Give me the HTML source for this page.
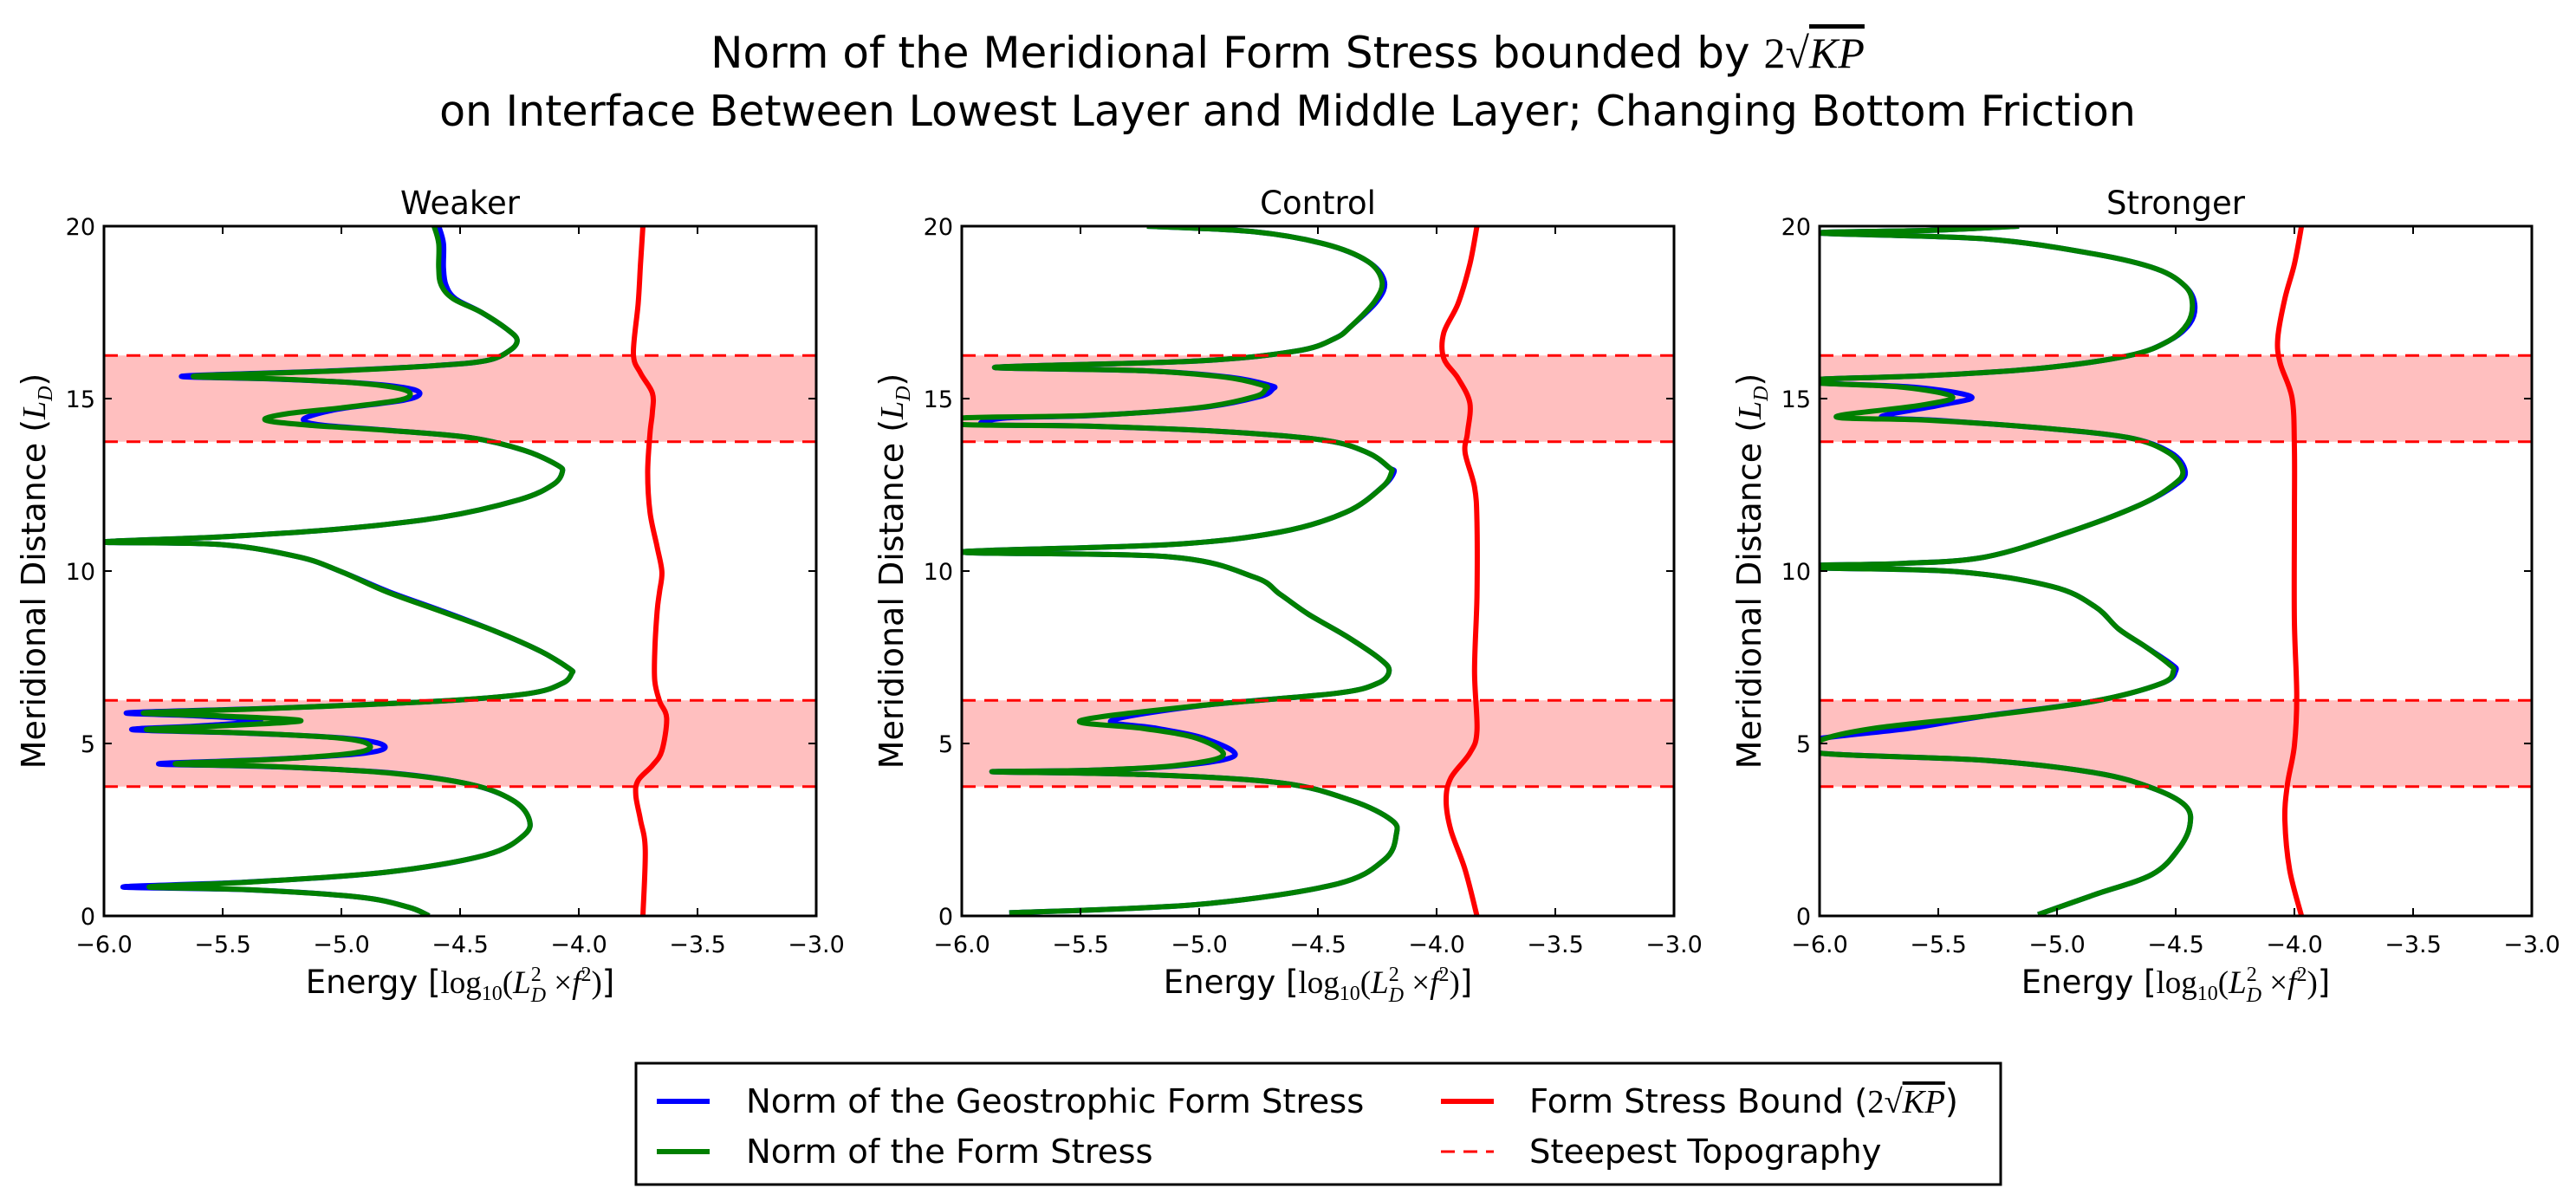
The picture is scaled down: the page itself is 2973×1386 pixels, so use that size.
<!DOCTYPE html>
<html><head><meta charset="utf-8"><style>
html,body{margin:0;padding:0;background:#fff;}
svg{display:block;font-family:"DejaVu Sans","Liberation Sans",sans-serif;}
</style></head><body>
<svg id="fig" width="2973" height="1386" viewBox="0 0 2973 1386" xmlns="http://www.w3.org/2000/svg">
<text x="1486" y="78" text-anchor="middle" font-size="50">Norm of the Meridional Form Stress bounded by <tspan font-family="Liberation Serif, serif">2√<tspan font-style="italic" text-decoration="overline">KP</tspan></tspan></text>
<text x="1486" y="145" text-anchor="middle" font-size="49">on Interface Between Lowest Layer and Middle Layer; Changing Bottom Friction</text>
<g id="panels"></g>
<g>
<rect x="734" y="1227" width="1575" height="140" fill="#fff" stroke="#000" stroke-width="3"/>
<line x1="758" y1="1271" x2="819" y2="1271" stroke="#0000ff" stroke-width="6"/>
<text x="861" y="1284" font-size="38.5">Norm of the Geostrophic Form Stress</text>
<line x1="758" y1="1329" x2="819" y2="1329" stroke="#008000" stroke-width="6"/>
<text x="861" y="1342" font-size="38.5">Norm of the Form Stress</text>
<line x1="1663" y1="1271" x2="1724" y2="1271" stroke="#ff0000" stroke-width="6"/>
<text x="1765" y="1284" font-size="38.5">Form Stress Bound (<tspan font-family="Liberation Serif, serif">2√<tspan font-style="italic" text-decoration="overline">KP</tspan></tspan>)</text>
<line x1="1663" y1="1329" x2="1724" y2="1329" stroke="#ff0000" stroke-width="3" stroke-dasharray="16,10"/>
<text x="1765" y="1342" font-size="38.5">Steepest Topography</text>
</g>
</svg>
<script>
const xTicks = [-6.0,-5.5,-5.0,-4.5,-4.0,-3.5,-3.0];
const yTicks = [0,5,10,15,20];
const bands = [[3.75,6.25],[13.75,16.25]];
const panelTitles = ["Weaker","Control","Stronger"];

const weakerY = [20,19.5,18.8,18.3,17.9,17.5,17.0,16.7,16.4,16.1,15.95,15.8,15.65,15.57,15.45,15.3,15.13,14.95,14.73,14.56,14.38,14.23,14.08,13.87,13.5,13.07,12.86,12.5,12.07,11.56,11.2,10.99,10.84,10.77,10.41,9.98,9.4,8.83,8.25,7.67,7.17,7.03,6.74,6.45,6.23,6.02,5.89,5.80,5.66,5.51,5.40,5.30,5.15,4.94,4.72,4.54,4.41,4.33,4.15,3.82,3.36,2.82,2.35,1.77,1.27,0.98,0.84,0.76,0.55,0.26,0];
const weakerForm = [-4.61,-4.59,-4.59,-4.58,-4.53,-4.41,-4.30,-4.26,-4.29,-4.39,-4.62,-5.04,-5.62,-5.28,-4.93,-4.76,-4.71,-4.76,-5.0,-5.23,-5.32,-5.14,-4.81,-4.46,-4.23,-4.09,-4.07,-4.11,-4.25,-4.58,-5.04,-5.51,-6.0,-5.51,-5.18,-5.0,-4.81,-4.58,-4.35,-4.16,-4.04,-4.03,-4.07,-4.21,-4.58,-5.28,-5.83,-5.51,-5.17,-5.51,-5.82,-5.39,-5.0,-4.88,-4.95,-5.28,-5.70,-5.28,-4.81,-4.46,-4.28,-4.21,-4.23,-4.39,-4.81,-5.39,-5.81,-5.39,-4.93,-4.72,-4.63];
const weakerGeo  = [-4.59,-4.57,-4.57,-4.56,-4.52,-4.41,-4.30,-4.26,-4.29,-4.39,-4.62,-5.06,-5.67,-5.30,-4.92,-4.72,-4.67,-4.74,-4.98,-5.10,-5.16,-5.08,-4.80,-4.46,-4.23,-4.09,-4.07,-4.11,-4.25,-4.58,-5.04,-5.51,-6.0,-5.51,-5.18,-5.0,-4.80,-4.57,-4.35,-4.16,-4.04,-4.03,-4.07,-4.21,-4.58,-5.30,-5.90,-5.60,-5.34,-5.60,-5.88,-5.40,-4.98,-4.82,-4.90,-5.30,-5.77,-5.30,-4.80,-4.46,-4.28,-4.21,-4.23,-4.39,-4.81,-5.40,-5.92,-5.40,-4.93,-4.72,-4.63];
const weakerBoundY = [20,18.9,17.75,16.3,15.74,15.16,14.6,14.0,12.86,11.7,10.7,9.98,9.4,8.83,7.67,6.81,6.23,5.73,4.79,4.36,3.93,3.5,2.78,1.92,0];
const weakerBound = [-3.73,-3.74,-3.75,-3.77,-3.74,-3.69,-3.69,-3.70,-3.71,-3.70,-3.67,-3.65,-3.66,-3.67,-3.68,-3.68,-3.66,-3.63,-3.65,-3.69,-3.75,-3.76,-3.74,-3.72,-3.73];

const controlY = [20,19.84,19.48,18.98,18.4,17.83,17.1,16.74,16.38,16.09,15.91,15.81,15.62,15.38,15.28,15.05,14.73,14.51,14.44,14.25,14.2,14.04,13.79,13.43,13.0,12.86,12.43,11.71,11.13,10.77,10.55,10.41,9.83,9.33,8.75,8.11,7.46,7.1,6.74,6.45,6.09,5.66,5.44,5.15,4.65,4.36,4.22,4.18,4.10,3.86,3.35,2.78,2.35,1.63,0.91,0.33,0.09];
const controlForm = [-5.22,-4.77,-4.47,-4.29,-4.23,-4.26,-4.36,-4.43,-4.59,-5.01,-5.86,-5.24,-4.89,-4.73,-4.72,-4.77,-5.01,-5.47,-6.0,-6.0,-5.47,-4.89,-4.47,-4.29,-4.20,-4.19,-4.23,-4.38,-4.66,-5.12,-6.0,-5.12,-4.77,-4.66,-4.54,-4.38,-4.24,-4.20,-4.25,-4.43,-5.01,-5.50,-5.24,-5.01,-4.90,-5.10,-5.47,-5.87,-5.24,-4.66,-4.36,-4.19,-4.17,-4.22,-4.43,-5.01,-5.80];
const controlGeo  = [-5.22,-4.77,-4.47,-4.29,-4.22,-4.25,-4.36,-4.43,-4.59,-5.01,-5.86,-5.24,-4.87,-4.70,-4.69,-4.75,-5.0,-5.45,-5.81,-5.90,-5.47,-4.89,-4.47,-4.29,-4.20,-4.18,-4.23,-4.38,-4.66,-5.12,-6.0,-5.12,-4.77,-4.66,-4.54,-4.38,-4.24,-4.20,-4.25,-4.43,-5.0,-5.37,-5.18,-4.98,-4.85,-5.08,-5.47,-5.87,-5.24,-4.66,-4.36,-4.19,-4.17,-4.22,-4.43,-5.01,-5.80];
const controlBoundY = [20,18.9,17.75,16.9,16.17,15.59,14.87,14.0,13.43,12.43,11.42,9.26,7.1,5.37,4.72,4.0,3.35,2.49,1.34,0];
const controlBound = [-3.83,-3.86,-3.91,-3.97,-3.97,-3.91,-3.86,-3.87,-3.88,-3.84,-3.83,-3.83,-3.84,-3.83,-3.86,-3.94,-3.96,-3.94,-3.88,-3.83];

const strongerY = [20,19.88,19.8,19.63,19.19,18.76,18.26,17.75,17.18,16.67,16.24,15.88,15.67,15.56,15.45,15.33,15.05,14.8,14.47,14.37,14.15,13.87,13.43,12.89,12.5,11.92,11.13,10.41,10.22,10.17,10.09,9.98,9.55,8.97,8.32,7.82,7.31,7.1,6.74,6.23,5.8,5.44,5.08,4.72,4.51,4.15,3.71,3.2,2.63,1.92,1.2,0.62,0.04];
const strongerForm = [-5.16,-5.53,-6.0,-5.30,-4.84,-4.58,-4.46,-4.43,-4.45,-4.53,-4.70,-5.07,-5.53,-6.0,-6.0,-5.65,-5.44,-5.58,-5.93,-5.53,-5.07,-4.70,-4.53,-4.47,-4.51,-4.65,-4.95,-5.30,-5.65,-6.0,-6.0,-5.42,-5.02,-4.84,-4.74,-4.63,-4.53,-4.51,-4.56,-4.84,-5.30,-5.77,-6.0,-6.0,-5.30,-4.84,-4.60,-4.46,-4.44,-4.49,-4.60,-4.84,-5.08];
const strongerGeo  = [-5.16,-5.53,-6.0,-5.30,-4.84,-4.58,-4.46,-4.42,-4.44,-4.53,-4.70,-5.07,-5.53,-6.0,-6.0,-5.60,-5.36,-5.50,-5.74,-5.50,-5.07,-4.70,-4.52,-4.46,-4.50,-4.65,-4.95,-5.30,-5.65,-6.0,-6.0,-5.42,-5.02,-4.84,-4.74,-4.63,-4.52,-4.50,-4.56,-4.84,-5.30,-5.62,-6.05,-6.0,-5.30,-4.84,-4.60,-4.46,-4.44,-4.49,-4.60,-4.84,-5.08];
const strongerBoundY = [20,18.9,17.9,16.75,16.03,15.02,13.58,11.42,8.54,6.38,4.94,3.79,2.78,1.34,0];
const strongerBound = [-3.97,-4.0,-4.04,-4.07,-4.06,-4.01,-4.0,-4.0,-4.0,-3.99,-4.0,-4.03,-4.04,-4.02,-3.97];

const panelsData = [
 {y:weakerY, form:weakerForm, geo:weakerGeo, by:weakerBoundY, b:weakerBound},
 {y:controlY, form:controlForm, geo:controlGeo, by:controlBoundY, b:controlBound},
 {y:strongerY, form:strongerForm, geo:strongerGeo, by:strongerBoundY, b:strongerBound}
];

const NS = "http://www.w3.org/2000/svg";
const lefts = [120,1110,2100], W = 822, TOP = 261, H = 796;
function mk(tag, attrs, parent){ const e=document.createElementNS(NS,tag); for(const k in attrs) e.setAttribute(k,attrs[k]); if(parent) parent.appendChild(e); return e; }
function smoothPath(pts){
  let d = "M"+pts[0][0].toFixed(1)+","+pts[0][1].toFixed(1);
  for(let i=0;i<pts.length-1;i++){
    const p0=pts[Math.max(0,i-1)], p1=pts[i], p2=pts[i+1], p3=pts[Math.min(pts.length-1,i+2)];
    const c1=[p1[0]+(p2[0]-p0[0])/6, p1[1]+(p2[1]-p0[1])/6];
    const c2=[p2[0]-(p3[0]-p1[0])/6, p2[1]-(p3[1]-p1[1])/6];
    d += " C"+c1[0].toFixed(1)+","+c1[1].toFixed(1)+" "+c2[0].toFixed(1)+","+c2[1].toFixed(1)+" "+p2[0].toFixed(1)+","+p2[1].toFixed(1);
  }
  return d;
}
const root = document.getElementById("panels");
panelsData.forEach((pd, pi) => {
  const L = lefts[pi];
  const sx = v => L + (v - xTicks[0]) / (xTicks[xTicks.length-1] - xTicks[0]) * W;
  const sy = v => TOP + H - (v - yTicks[0]) / (yTicks[yTicks.length-1] - yTicks[0]) * H;
  const g = mk("g", {}, root);
  
  
  const cp = mk("clipPath", {id:"clip"+pi}, g);
  mk("rect", {x:L, y:TOP, width:W, height:H}, cp);
  const plot = mk("g", {"clip-path":"url(#clip"+pi+")"}, g);
  bands.forEach((b, bi) => {
    const r = mk("rect", {x:L, y:sy(b[1]), width:W, height:sy(b[0])-sy(b[1]), fill:"#ffbfbf"}, plot);
    
    
  });
  const series = [[pd.geo, pd.y, "#0000ff", "geostrophic-form-stress-line"], [pd.form, pd.y, "#008000", "form-stress-line"], [pd.b, pd.by, "#ff0000", "form-stress-bound-line"]];
  series.forEach(s => {
    const pts = s[0].map((v, i) => [sx(v), sy(s[1][i])]);
    const p = mk("path", {d:smoothPath(pts), fill:"none", stroke:s[2], "stroke-width":6, "stroke-linejoin":"round"}, plot);
    
    
  });
  bands.forEach(b => b.forEach(v => {
    const l = mk("line", {x1:L, x2:L+W, y1:sy(v), y2:sy(v), stroke:"#ff0000", "stroke-width":3, "stroke-dasharray":"16,10"}, plot);
    
    
  }));
  const frame = mk("rect", {x:L, y:TOP, width:W, height:H, fill:"none", stroke:"#000", "stroke-width":3}, g);
  
  
  xTicks.forEach(v => {
    const x = sx(v);
    mk("line", {x1:x, x2:x, y1:TOP+H, y2:TOP+H-9, stroke:"#000", "stroke-width":2}, g);
    mk("line", {x1:x, x2:x, y1:TOP, y2:TOP+9, stroke:"#000", "stroke-width":2}, g);
    const t = mk("text", {x:x, y:TOP+H+42, "text-anchor":"middle", "font-size":27}, g);
    t.textContent = v.toFixed(1).replace("-", "\u2212");
    
    
  });
  yTicks.forEach(v => {
    const y = sy(v);
    mk("line", {x1:L, x2:L+9, y1:y, y2:y, stroke:"#000", "stroke-width":2}, g);
    mk("line", {x1:L+W, x2:L+W-9, y1:y, y2:y, stroke:"#000", "stroke-width":2}, g);
    const t = mk("text", {x:L-10, y:y+10, "text-anchor":"end", "font-size":27}, g);
    t.textContent = String(v);
    
    
  });
  const ti = mk("text", {x:L+W/2, y:247, "text-anchor":"middle", "font-size":37}, g);
  ti.textContent = panelTitles[pi];
  
  
  const xl = mk("text", {x:L+W/2, y:1146, "text-anchor":"middle", "font-size":37}, g);
  xl.innerHTML = 'Energy [<tspan font-family="Liberation Serif, serif">log<tspan font-size="24" dy="8">10</tspan><tspan dy="-8">(</tspan><tspan font-style="italic">L</tspan><tspan font-size="24" dy="-14">2</tspan><tspan font-size="24" font-style="italic" dx="-12" dy="24">D</tspan><tspan dy="-10"> ×</tspan><tspan font-style="italic">f</tspan><tspan font-size="24" dy="-14">2</tspan><tspan dy="14">)</tspan></tspan>]';
  
  
  const cx = L - 68, cy = TOP + H/2;
  const yl = mk("text", {x:cx, y:cy, "text-anchor":"middle", "font-size":38, transform:"rotate(-90 "+cx+" "+cy+")"}, g);
  yl.innerHTML = 'Meridional Distance (<tspan font-family="Liberation Serif, serif" font-style="italic">L</tspan><tspan font-family="Liberation Serif, serif" font-style="italic" font-size="24" dy="8">D</tspan><tspan dy="-8">)</tspan>';
  
  
});
</script>
</body></html>
